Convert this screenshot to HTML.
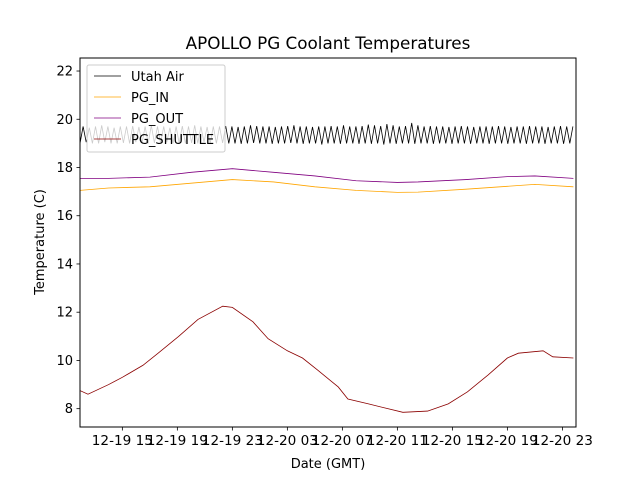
<!DOCTYPE html>
<html><head><meta charset="utf-8">
<style>
html,body{margin:0;padding:0;background:#fff;}
svg{display:block;font-family:"DejaVu Sans","Liberation Sans",sans-serif;}
</style></head>
<body>
<svg id="chart" width="640" height="480" viewBox="0 0 640 480">
<rect x="0" y="0" width="640" height="480" fill="#fff"/>
<text x="328" y="49" font-size="16.8" text-anchor="middle">APOLLO PG Coolant Temperatures</text>
<g id="plot"></g>
<g id="axes"></g>
<text x="328" y="468" font-size="13" text-anchor="middle">Date (GMT)</text>
<text transform="translate(44,242) rotate(-90)" font-size="13" text-anchor="middle">Temperature (C)</text>
<g id="legend"></g>
</svg>
<script>
// x values are hours since 12-19 00:00 GMT
const xTickHours = [15, 19, 23, 27, 31, 35, 39, 43, 47];
const xTickLabels = ["12-19 15","12-19 19","12-19 23","12-20 03","12-20 07","12-20 11","12-20 15","12-20 19","12-20 23"];
const yTicks = [8, 10, 12, 14, 16, 18, 20, 22];
const shuttleHours = [11.92,12.5,14.0,15.0,16.5,17.6,19.1,20.5,22.3,23.0,24.5,25.6,27.0,28.1,29.2,30.7,31.4,32.9,34.3,35.4,37.2,38.7,40.1,41.6,43.0,43.8,45.6,46.3,47.8];
const shuttleValues = [8.75,8.6,9.0,9.3,9.8,10.3,11.0,11.7,12.25,12.2,11.6,10.9,10.4,10.1,9.6,8.9,8.4,8.2,8.0,7.85,7.9,8.2,8.7,9.4,10.1,10.3,10.4,10.15,10.1];
const inHours = [11.92,14,17,20,23,26,29,32,35,36.5,40,43,45,47.8];
const inValues = [17.05,17.15,17.2,17.35,17.5,17.4,17.2,17.05,16.97,16.98,17.1,17.22,17.3,17.2];
const outHours = [11.92,14,17,20,23,26,29,32,35,36.5,40,43,45,47.8];
const outValues = [17.55,17.55,17.6,17.8,17.95,17.8,17.65,17.45,17.38,17.4,17.5,17.62,17.65,17.55];
const airHigh = [19.7,19.65,19.7,19.75,19.7,19.65,19.7,19.7,19.72,19.68,19.7,19.75,19.7,19.7,19.65,19.7,19.72,19.7,19.75,19.7,19.68,19.7,19.7,19.72,19.7,19.68,19.7,19.75,19.72,19.7,19.7,19.68,19.7,19.72,19.75,19.7,19.7,19.68,19.7,19.7,19.72,19.7,19.75,19.7,19.7,19.72,19.78,19.75,19.72,19.8,19.75,19.7,19.72,19.85,19.75,19.7,19.72,19.7,19.7,19.68,19.7,19.72,19.7,19.68,19.7,19.7,19.7,19.72,19.7,19.68,19.7,19.7,19.72,19.7,19.7,19.68,19.7,19.72,19.7,19.7];
const airLow = [19.0,19.05,19.0,19.0,19.05,19.0,19.0,19.02,19.0,19.05,19.0,19.0,19.02,19.0,19.05,19.0,19.0,19.0,19.02,19.0,19.05,19.0,19.0,19.02,19.0,19.0,18.98,19.0,19.02,19.0,19.0,18.98,19.0,19.0,19.02,19.0,18.98,19.0,19.0,18.95,19.0,19.0,18.98,19.0,19.0,18.98,19.0,18.98,19.0,18.95,19.0,18.98,19.0,19.0,18.98,19.0,19.0,18.98,19.0,19.0,18.98,19.0,19.0,18.98,19.0,19.0,18.98,19.0,19.0,18.98,19.0,19.0,18.98,19.0,19.0,18.98,19.0,19.0,18.98,19.0];

const NS = "http://www.w3.org/2000/svg";
const L = 80, R = 576, T = 58, B = 427;
const X0 = 11.92, X1 = 47.99;
const Y0 = 7.24, Y1 = 22.54;
function xs(h){ return L + (h - X0) / (X1 - X0) * (R - L); }
function ys(v){ return B - (v - Y0) / (Y1 - Y0) * (B - T); }
const plot = document.getElementById('plot');
const axes = document.getElementById('axes');
const legend = document.getElementById('legend');
function mk(tag, attrs, parent){ const e = document.createElementNS(NS, tag); for (const k in attrs) e.setAttribute(k, attrs[k]); parent.appendChild(e); return e; }
function poly(hs, vs, color, name){
  const pts = hs.map((h,i)=> xs(h).toFixed(2)+","+ys(vs[i]).toFixed(2)).join(" ");
  const p = mk('polyline', {points:pts, fill:'none', stroke:color, 'stroke-width':0.8}, plot);
  
  
}
const airH = [], airV = [];
const period = (X1 - X0) / airHigh.length;
for (let i = 0; i < airHigh.length; i++) {
  airH.push(X0 + i * period); airV.push(airLow[i]);
  airH.push(X0 + (i + 0.5) * period); airV.push(airHigh[i]);
}
const cp = mk('clipPath', {id:'clip'}, plot);
mk('rect', {x:L, y:T, width:R-L, height:B-T}, cp);
plot.setAttribute('clip-path', 'url(#clip)');
poly(airH, airV, '#000000', 'utah-air-line');
poly(inHours, inValues, '#ffa500', 'pg-in-line');
poly(outHours, outValues, '#800080', 'pg-out-line');
poly(shuttleHours, shuttleValues, '#8b0000', 'pg-shuttle-line');

const fr = mk('rect', {x:L, y:T, width:R-L, height:B-T, fill:'none', stroke:'#000', 'stroke-width':1}, axes);


yTicks.forEach(v => {
  const y = ys(v);
  const t = mk('line', {x1:L-3.5, x2:L, y1:y, y2:y, stroke:'#000', 'stroke-width':0.8}, axes);
  
  
  const tx = mk('text', {x:L-7, y:y+4.5, 'font-size':13, 'text-anchor':'end'}, axes);
  tx.textContent = v;
  
  
});
xTickHours.forEach((h, i) => {
  const x = xs(h);
  const t = mk('line', {x1:x, x2:x, y1:B, y2:B+3.5, stroke:'#000', 'stroke-width':0.8}, axes);
  
  
  const tx = mk('text', {x:x, y:B+18, 'font-size':13.6, 'text-anchor':'middle'}, axes);
  tx.textContent = xTickLabels[i];
  
  
});
const lb = mk('rect', {x:87, y:65, width:138, height:87, rx:2, fill:'#fff', 'fill-opacity':0.8, stroke:'#ccc', 'stroke-width':1}, legend);


const entries = [["Utah Air","#000000"],["PG_IN","#ffa500"],["PG_OUT","#800080"],["PG_SHUTTLE","#8b0000"]];
entries.forEach((e, i) => {
  const y = 76 + i * 21;
  const g = mk('g', {}, legend);
  
  
  mk('line', {x1:94, x2:121, y1:y, y2:y, stroke:e[1], 'stroke-width':0.8}, g);
  const tx = mk('text', {x:131, y:y+5, 'font-size':13}, g);
  tx.textContent = e[0];
});
</script>
</body></html>
